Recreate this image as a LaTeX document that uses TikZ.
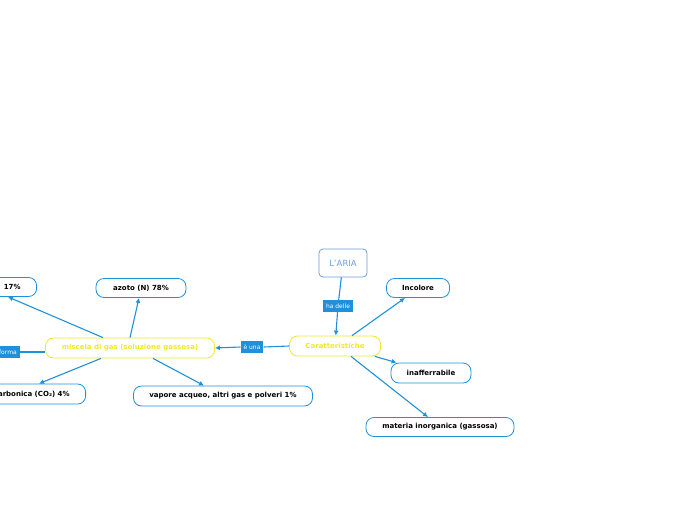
\documentclass[tikz,border=0pt]{standalone}
\usepackage{fontspec}
\setmainfont{DejaVu Sans}
\usetikzlibrary{arrows.meta}
\definecolor{mapblue}{RGB}{30,144,220}
\definecolor{mapyellow}{RGB}{240,232,40}
\definecolor{titleblue}{RGB}{110,160,220}
\tikzset{
  topic/.style={draw=mapblue, line width=0.8pt, rounded corners=8pt, fill=white, inner sep=0pt,
    font=\fontsize{7}{8}\selectfont\bfseries, minimum height=19pt},
  maintopic/.style={topic, draw=mapyellow, text=mapyellow, minimum height=20pt},
  linklabel/.style={fill=mapblue, text=white, inner sep=0pt, inner xsep=3pt,
    font=\fontsize{6}{7}\selectfont, minimum height=12pt},
  link/.style={draw=mapblue, line width=1.1pt},
  linkto/.style={link, -{Latex[length=5pt,width=5pt]}}
}
\begin{document}
\begin{tikzpicture}[x=1pt,y=-1pt]
    \useasboundingbox (0,0) rectangle (696,520);
    \node[draw=titleblue, line width=0.8pt, rounded corners=4pt, minimum width=48pt, minimum height=28pt,
      text=titleblue, font=\fontsize{8.5}{9}\selectfont] (aria) at (343,263) {L'ARIA};
    \node[linklabel] (hadelle) at (338,306) {ha delle};
    \node[maintopic, minimum width=91pt] (caratt) at (335,346) {Caratteristiche};
    \node[topic, minimum width=63pt] (incolore) at (418,288) {Incolore};
    \node[topic, minimum width=80pt, minimum height=20pt] (inaff) at (431,373) {inafferrabile};
    \node[topic, minimum width=148pt] (materia) at (440,427) {materia inorganica (gassosa)};
    \node[linklabel] (euna) at (252,347) {è una};
    \node[maintopic, minimum width=169pt] (miscela) at (130,348) {miscela di gas (soluzione gassosa)};
    \node[topic, minimum width=90pt] (azoto) at (141,288) {azoto (N) 78\%};
    \node[topic, anchor=east, inner xsep=16pt] (ossig) at (37,287) {17\%};
    \node[linklabel, anchor=east] (forma) at (20,352) {forma};
    \node[topic, anchor=east, inner xsep=16pt, minimum height=20pt] (co2) at (86,394) {carbonica (CO₂) 4\%};
    \node[topic, minimum width=179pt, minimum height=20pt] (vapore) at (223,396) {vapore acqueo, altri gas e polveri 1\%};

    \draw[link] (aria) -- (hadelle);
    \draw[linkto] (hadelle) -- (caratt);
    \draw[linkto] ([xshift=17pt]caratt.north) -- ([xshift=-13pt]incolore.south);
    \draw[linkto] ([xshift=-6pt]caratt.south east) -- ([xshift=6pt]inaff.north west);
    \draw[linkto] ([xshift=16pt]caratt.south) -- ([xshift=-12pt]materia.north);
    \draw[link] (caratt.west) -- (euna.east);
    \draw[linkto] (euna.west) -- (miscela.east);
    \draw[linkto] (miscela.north) -- ([xshift=-2pt]azoto.south);
    \draw[linkto] ([xshift=-27pt]miscela.north) -- ([xshift=-29pt]ossig.south east);
    \draw[link] (forma.east -| miscela.west) -- (forma.east);
    \draw[linkto] ([xshift=-29pt]miscela.south) -- ([xshift=-47pt]co2.north east);
    \draw[linkto] ([xshift=23pt]miscela.south) -- ([xshift=-19pt]vapore.north);
\end{tikzpicture}
\end{document}
